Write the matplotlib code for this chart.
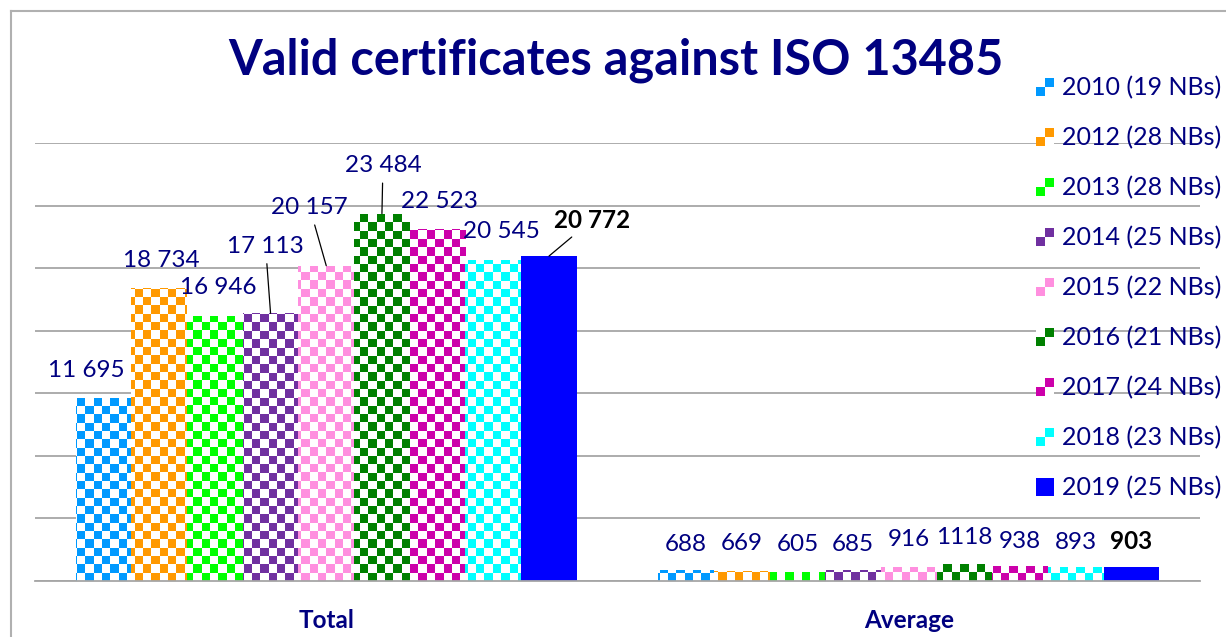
import numpy as np
import matplotlib
matplotlib.use('Agg')
import matplotlib.pyplot as plt
from matplotlib.patches import Rectangle
from matplotlib.legend_handler import HandlerBase
from matplotlib.lines import Line2D

# ---------------- data ----------------
categories = ['Total', 'Average']
series_labels = ['2010 (19 NBs)', '2012 (28 NBs)', '2013 (28 NBs)', '2014 (25 NBs)',
                 '2015 (22 NBs)', '2016 (21 NBs)', '2017 (24 NBs)', '2018 (23 NBs)',
                 '2019 (25 NBs)']
total_values = [11695, 18734, 16946, 17113, 20157, 23484, 22523, 20545, 20772]
average_values = [688, 669, 605, 685, 916, 1118, 938, 893, 903]

# ---------------- styles ----------------
colors = ['#0099FF', '#FF9900', '#00FF00', '#7030A0', '#FF8FDF',
          '#008000', '#CC00AA', '#00FFFF', '#0000FF']
checkered = [True] * 8 + [False]
navy = '#000080'
grid_gray = '#A6A6A6'
FONT = 'Lato'

# label offsets in pixels (dx, dy up) relative to bar top centre
total_offsets = [(-17, 28), (2.5, 27), (3, 28), (-5, 67), (-16.5, 58),
                 (1, 48), (2, 27), (8.5, 28), (43, 36)]
total_leader = [False, False, False, True, True, True, False, False, True]
average_offsets = [(0, 26), (0, 27), (0, 27), (0, 26), (0, 27),
                   (0, 26.5), (0, 25), (0, 25), (0, 25)]


def fmt(v):
    return f"{v:,}".replace(',', ' ') if v >= 10000 else str(v)


W, H, DPI = 1226, 637, 100
fig = plt.figure(figsize=(W / DPI, H / DPI), dpi=DPI)
fig.patch.set_facecolor('white')

ax_l, ax_r = 35, 1200
ax_b, ax_t = 581, 143
ax = fig.add_axes([ax_l / W, 1 - ax_b / H, (ax_r - ax_l) / W, (ax_b - ax_t) / H])
YMAX = 28000
ax.set_xlim(-0.5, 1.5)
ax.set_ylim(0, YMAX)

n = len(series_labels)
bw = 0.0956
x = np.arange(len(categories))

# checkerboard template (in axes pixel space)
cell_px = 8.33
ax_wpx, ax_hpx = ax_r - ax_l, ax_b - ax_t
ncols = int(np.ceil(ax_wpx / cell_px)) + 1
nrows = int(np.ceil(ax_hpx / cell_px)) + 1
rr, cc = np.meshgrid(np.arange(nrows), np.arange(ncols), indexing='ij')
mask = ((rr + cc) % 2 == 0)
ext = [-0.5, -0.5 + ncols * cell_px * 2.0 / ax_wpx, 0, nrows * cell_px * YMAX / ax_hpx]


def checker_img(color):
    rgba = np.ones((nrows, ncols, 4))
    c = matplotlib.colors.to_rgba(color)
    rgba[mask] = c
    return rgba


for i in range(n):
    vals = [total_values[i], average_values[i]]
    pos = x + (i - (n - 1) / 2) * bw
    if checkered[i]:
        bars = ax.bar(pos, vals, width=bw, facecolor='none', edgecolor='none', zorder=2)
        img = checker_img(colors[i])
        for b in bars:
            im = ax.imshow(img, extent=ext, origin='lower', aspect='auto',
                           interpolation='nearest', zorder=2)
            im.set_clip_path(b)
    else:
        bars = ax.bar(pos, vals, width=bw, color=colors[i], edgecolor='none', zorder=2)

    # labels
    is_last = (i == n - 1)
    fc = 'black' if is_last else navy
    fw = 'bold' if is_last else 'normal'
    for k, v in enumerate(vals):
        dx, dy = (total_offsets[i] if k == 0 else average_offsets[i])
        arrow = None
        if k == 0 and total_leader[i]:
            arrow = dict(arrowstyle='-', color='black', lw=0.9, shrinkA=3, shrinkB=0)
        ax.annotate(fmt(v), xy=(pos[k], v), xytext=(dx, dy), textcoords='offset pixels',
                    ha='center', va='center', fontsize=17.5, color=fc, fontweight=fw,
                    family=FONT, arrowprops=arrow, zorder=5, annotation_clip=False)

ax.set_xlim(-0.5, 1.5)
ax.set_ylim(0, YMAX)
ax.set_yticks(np.arange(0, YMAX + 1, 4000))
ax.yaxis.grid(True, color=grid_gray, lw=1.3)
ax.set_axisbelow(True)
ax.tick_params(axis='y', length=0, labelleft=False)
ax.set_xticks(x)
ax.set_xticklabels(categories, fontsize=17.5, fontweight='bold', color=navy, family=FONT)
ax.tick_params(axis='x', length=0, pad=20)
for s in ['top', 'left', 'right']:
    ax.spines[s].set_visible(False)
ax.spines['bottom'].set_color(grid_gray)
ax.spines['bottom'].set_linewidth(1.3)

# title
fig.text(616 / W, 1 - 60 / H, 'Valid certificates against ISO 13485', ha='center', va='center',
         fontsize=35, fontweight='bold', color=navy, family=FONT)


# legend
class CheckerHandler(HandlerBase):
    def __init__(self, color, checker):
        super().__init__()
        self.color = color
        self.checker = checker

    def create_artists(self, legend, orig_handle, xdescent, ydescent, width, height,
                       fontsize, trans):
        s = 13
        x0 = -xdescent
        y0 = -ydescent + height / 2 - s / 2
        arts = []
        if self.checker:
            h = s / 2
            arts.append(Rectangle((x0, y0), s, s, facecolor='white', edgecolor='none', transform=trans))
            arts.append(Rectangle((x0 + h, y0 + h), h, h, facecolor=self.color, edgecolor='none', transform=trans))
            arts.append(Rectangle((x0, y0), h, h, facecolor=self.color, edgecolor='none', transform=trans))
        else:
            arts.append(Rectangle((x0, y0), s, s, facecolor=self.color, edgecolor='none', transform=trans))
        return arts


proxies = [Rectangle((0, 0), 1, 1) for _ in range(n)]
hmap = {p: CheckerHandler(colors[i], checkered[i]) for i, p in enumerate(proxies)}
LFS = 18
leg = fig.legend(proxies, series_labels, handler_map=hmap, loc='upper left',
                 bbox_to_anchor=(1036 / W, 1 - 76 / H), frameon=False,
                 prop={'family': FONT, 'size': LFS}, handlelength=13 / LFS,
                 handletextpad=0.3, labelspacing=1.07, borderpad=0, borderaxespad=0)
for t in leg.get_texts():
    t.set_color(navy)

# chart border
fig.add_artist(Line2D([11 / W, 11 / W], [0, 1 - 11 / H], transform=fig.transFigure,
                      color='#B0B0B0', lw=1.5))
fig.add_artist(Line2D([11 / W, 1], [1 - 11 / H, 1 - 11 / H], transform=fig.transFigure,
                      color='#B0B0B0', lw=1.5))

fig.savefig('out.png', dpi=DPI, facecolor='white')
